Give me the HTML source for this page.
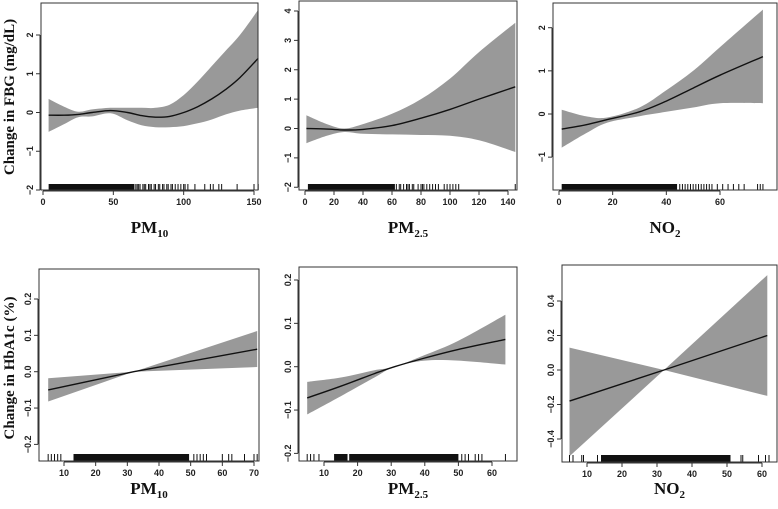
<!DOCTYPE html>
<html><head><meta charset="utf-8">
<style>
html,body{margin:0;padding:0;background:#fff;}
svg{display:block;}
text{font-family:"Liberation Sans",Arial,sans-serif;}
.tick{font-size:9px;font-weight:bold;fill:#222;}
.xt{font-family:"Liberation Serif",serif;font-size:17px;font-weight:bold;fill:#111;}
.yt{font-family:"Liberation Serif",serif;font-size:15px;font-weight:bold;fill:#111;}
</style></head>
<body>
<svg id="chart" width="778" height="509" viewBox="0 0 778 509" xmlns="http://www.w3.org/2000/svg">
<text class="yt" transform="translate(14,97) rotate(-90)" text-anchor="middle">Change in FBG (mg/dL)</text>
<text class="yt" transform="translate(14,368) rotate(-90)" text-anchor="middle">Change in HbA1c (%)</text>
</svg>
<script>
// ---- data ----
const xA=[4,15,25,35,48,60,70,80,90,100,110,120,130,140,153];
const fitA=[-0.07,-0.07,-0.05,0.0,0.05,0.0,-0.08,-0.12,-0.1,0.0,0.15,0.35,0.6,0.9,1.4];
const loA=[-0.5,-0.3,-0.12,-0.1,-0.02,-0.2,-0.33,-0.38,-0.38,-0.35,-0.28,-0.18,-0.05,0.05,0.12];
const hiA=[0.35,0.15,0.02,0.08,0.12,0.12,0.12,0.12,0.2,0.45,0.8,1.2,1.6,2.0,2.65];
const xB=[1,15,27,40,60,80,100,120,145];
const fitB=[0.0,-0.02,-0.05,-0.03,0.1,0.35,0.65,1.0,1.42];
const loB=[-0.5,-0.25,-0.12,-0.18,-0.2,-0.22,-0.25,-0.4,-0.8];
const hiB=[0.45,0.15,0.0,0.15,0.5,1.0,1.7,2.6,3.6];
const xC=[1,10,18,30,40,50,60,76];
const fitC=[-0.35,-0.25,-0.13,0.05,0.3,0.6,0.9,1.33];
const loC=[-0.78,-0.45,-0.2,-0.05,0.05,0.15,0.25,0.25];
const hiC=[0.1,-0.05,-0.08,0.15,0.55,1.0,1.55,2.42];
const xD=[5,32,71];
const fitD=[-0.05,0,0.062];
const loD=[-0.082,0,0.013];
const hiD=[-0.018,0,0.112];
const xE=[5,15,25,31,40,50,64];
const fitE=[-0.072,-0.045,-0.016,0,0.02,0.04,0.063];
const loE=[-0.11,-0.068,-0.025,0,0.014,0.014,0.005];
const hiE=[-0.035,-0.025,-0.008,0,0.027,0.06,0.12];
const xF=[5,32,61.5];
const fitF=[-0.18,0,0.2];
const loF=[-0.5,0,-0.15];
const hiF=[0.13,0,0.55];
// rug: dense ranges and single ticks
const rugDenseA=[[4,65]];
const rugA=[66,67,68,69,71,72,73,75,76,77,79,80,82,83,85,86,88,89,91,92,94,96,98,100,101,103,108,115,119,121,125,127,138,150,153];
const rugDenseB=[[2,62]];
const rugB=[63,65,66,68,70,71,72,74,75,78,80,81,82,84,86,88,90,92,96,98,100,102,104,106,145];
const rugDenseC=[[1,44]];
const rugC=[45,46,47,48,49,50,51,52,53,54,55,56,57,59,61,63,65,67,69,74,75,76];
const rugDenseD=[[13,49.5]];
const rugD=[5,6,7,8,9,51,52,53,54,55,60,62,63,67,70,71];
const rugDenseE=[[13,17],[17.5,50]];
const rugE=[5,6,7,8.5,51,52,53,55,56,57,64];
const rugDenseF=[[14,51]];
const rugF=[5,6,8.5,9,13,54,54.5,59,61,62];
const ticksXA=[0,50,100,150], ticksYA=[-2,-1,0,1,2];
const ticksXB=[0,20,40,60,80,100,120,140], ticksYB=[-2,-1,0,1,2,3,4];
const ticksXC=[0,20,40,60], ticksYC=[-1,0,1,2];
const ticksXD=[10,20,30,40,50,60,70], ticksYD=[-0.2,-0.1,0.0,0.1,0.2];
const ticksXE=[10,20,30,40,50,60], ticksYE=[-0.2,-0.1,0.0,0.1,0.2];
const ticksXF=[10,20,30,40,50,60], ticksYF=[-0.4,-0.2,0.0,0.2,0.4];

const NS="http://www.w3.org/2000/svg";
const svg=document.getElementById('chart');
function mk(tag,attrs,parent){const e=document.createElementNS(NS,tag);for(const k in attrs)e.setAttribute(k,attrs[k]);(parent||svg).appendChild(e);return e;}
function lin(d0,d1,r0,r1){return v=>r0+(v-d0)*(r1-r0)/(d1-d0);}
function spline(pts){
  if(pts.length<=3){return pts.map((p,i)=>(i?'L':'M')+p[0].toFixed(1)+','+p[1].toFixed(1)).join('');}
  let d='M'+pts[0][0].toFixed(1)+','+pts[0][1].toFixed(1);
  for(let i=0;i<pts.length-1;i++){
    const p0=pts[Math.max(0,i-1)],p1=pts[i],p2=pts[i+1],p3=pts[Math.min(pts.length-1,i+2)];
    const c1=[p1[0]+(p2[0]-p0[0])/6,p1[1]+(p2[1]-p0[1])/6];
    const c2=[p2[0]-(p3[0]-p1[0])/6,p2[1]-(p3[1]-p1[1])/6];
    d+='C'+c1[0].toFixed(1)+','+c1[1].toFixed(1)+' '+c2[0].toFixed(1)+','+c2[1].toFixed(1)+' '+p2[0].toFixed(1)+','+p2[1].toFixed(1);
  }
  return d;
}
function fmt(v,dec){return (dec?v.toFixed(dec):String(v)).replace('-','\u2212');}

function panel(c){
  const g=mk('g',{});
  
  
  const sx=lin(c.xd[0],c.xd[1],c.xr[0],c.xr[1]);
  const sy=lin(c.yd[0],c.yd[1],c.yr[0],c.yr[1]);
  const lo=c.x.map((v,i)=>[sx(v),sy(c.lo[i])]);
  const hi=c.x.map((v,i)=>[sx(v),sy(c.hi[i])]).reverse();
  const dHi=spline(hi).replace(/^M/,'L');
  const band=mk('path',{d:spline(lo)+dHi+'Z',fill:'#999',stroke:'none'},g);
  
  
  const ln=mk('path',{d:spline(c.x.map((v,i)=>[sx(v),sy(c.fit[i])])),fill:'none',stroke:'#111','stroke-width':1.4},g);
  
  
  const rg=mk('g',{fill:'#111'},g);
  
  
  c.dense.forEach(r=>{const e=mk('rect',{x:sx(r[0]),y:c.rug[0],width:sx(r[1])-sx(r[0]),height:c.rug[1]-c.rug[0],fill:'#111'},rg);
    });
  c.rugs.forEach(v=>{const e=mk('rect',{x:sx(v)-0.5,y:c.rug[0],width:1,height:c.rug[1]-c.rug[0]},rg);
    });
  const b=mk('rect',{x:c.box[0],y:c.box[1],width:c.box[2]-c.box[0],height:c.box[3]-c.box[1],fill:'none',stroke:'#333','stroke-width':1},g);
  
  const xa=mk('g',{},g);
  
  const xt=c.tx, yb=c.box[3]+1;
  mk('line',{x1:sx(xt[0]),x2:sx(xt[xt.length-1]),y1:yb,y2:yb,stroke:'#333'},xa);
  xt.forEach(v=>{mk('line',{x1:sx(v),x2:sx(v),y1:yb,y2:yb+4,stroke:'#333'},xa);
    const t=mk('text',{x:sx(v),y:yb+14,class:'tick','text-anchor':'middle'},xa);t.textContent=v;
    });
  const ya=mk('g',{},g);
  
  const xl=c.box[0]-1, yt=c.ty;
  mk('line',{x1:xl,x2:xl,y1:sy(yt[0]),y2:sy(yt[yt.length-1]),stroke:'#333'},ya);
  yt.forEach(v=>{mk('line',{x1:xl-4,x2:xl,y1:sy(v),y2:sy(v),stroke:'#333'},ya);
    const t=mk('text',{class:'tick','text-anchor':'middle',transform:'translate('+(xl-7)+','+sy(v)+') rotate(-90)'},ya);
    t.textContent=fmt(v,c.dec);
    });
  const tt=mk('text',{x:(c.box[0]+c.box[2])/2,y:c.titleY,class:'xt','text-anchor':'middle'},g);
  
  const s1=mk('tspan',{},tt);s1.textContent=c.title[0];
  const s2=mk('tspan',{dy:4,'font-size':11},tt);s2.textContent=c.title[1];
}
panel({name:'panel-fbg-pm10',x:xA,fit:fitA,lo:loA,hi:hiA,xd:[0,150],xr:[43,254],yd:[0,2],yr:[112.5,35],box:[41,3,258,190],rug:[184,190],dense:rugDenseA,rugs:rugA,tx:ticksXA,ty:ticksYA,dec:0,title:['PM','10'],titleY:233});
panel({name:'panel-fbg-pm25',x:xB,fit:fitB,lo:loB,hi:hiB,xd:[0,140],xr:[305,508],yd:[0,4],yr:[128.5,11],box:[299,1,517,190],rug:[184,190],dense:rugDenseB,rugs:rugB,tx:ticksXB,ty:ticksYB,dec:0,title:['PM','2.5'],titleY:233});
panel({name:'panel-fbg-no2',x:xC,fit:fitC,lo:loC,hi:hiC,xd:[0,60],xr:[559,720],yd:[0,2],yr:[114,27.7],box:[553,3,777,190],rug:[184,190],dense:rugDenseC,rugs:rugC,tx:ticksXC,ty:ticksYC,dec:0,title:['NO','2'],titleY:233});
panel({name:'panel-hba1c-pm10',x:xD,fit:fitD,lo:loD,hi:hiD,xd:[10,70],xr:[64,254],yd:[0,0.2],yr:[371.7,299],box:[39,269,259,461],rug:[454,461],dense:rugDenseD,rugs:rugD,tx:ticksXD,ty:ticksYD,dec:1,title:['PM','10'],titleY:494});
panel({name:'panel-hba1c-pm25',x:xE,fit:fitE,lo:loE,hi:hiE,xd:[10,60],xr:[324,492],yd:[0,0.2],yr:[366.7,280],box:[299,267,517,461],rug:[454,461],dense:rugDenseE,rugs:rugE,tx:ticksXE,ty:ticksYE,dec:1,title:['PM','2.5'],titleY:494});
panel({name:'panel-hba1c-no2',x:xF,fit:fitF,lo:loF,hi:hiF,xd:[10,60],xr:[587,762],yd:[0,0.4],yr:[370,301],box:[562,265,777,462],rug:[455,462],dense:rugDenseF,rugs:rugF,tx:ticksXF,ty:ticksYF,dec:1,title:['NO','2'],titleY:494});
</script>
</body></html>
